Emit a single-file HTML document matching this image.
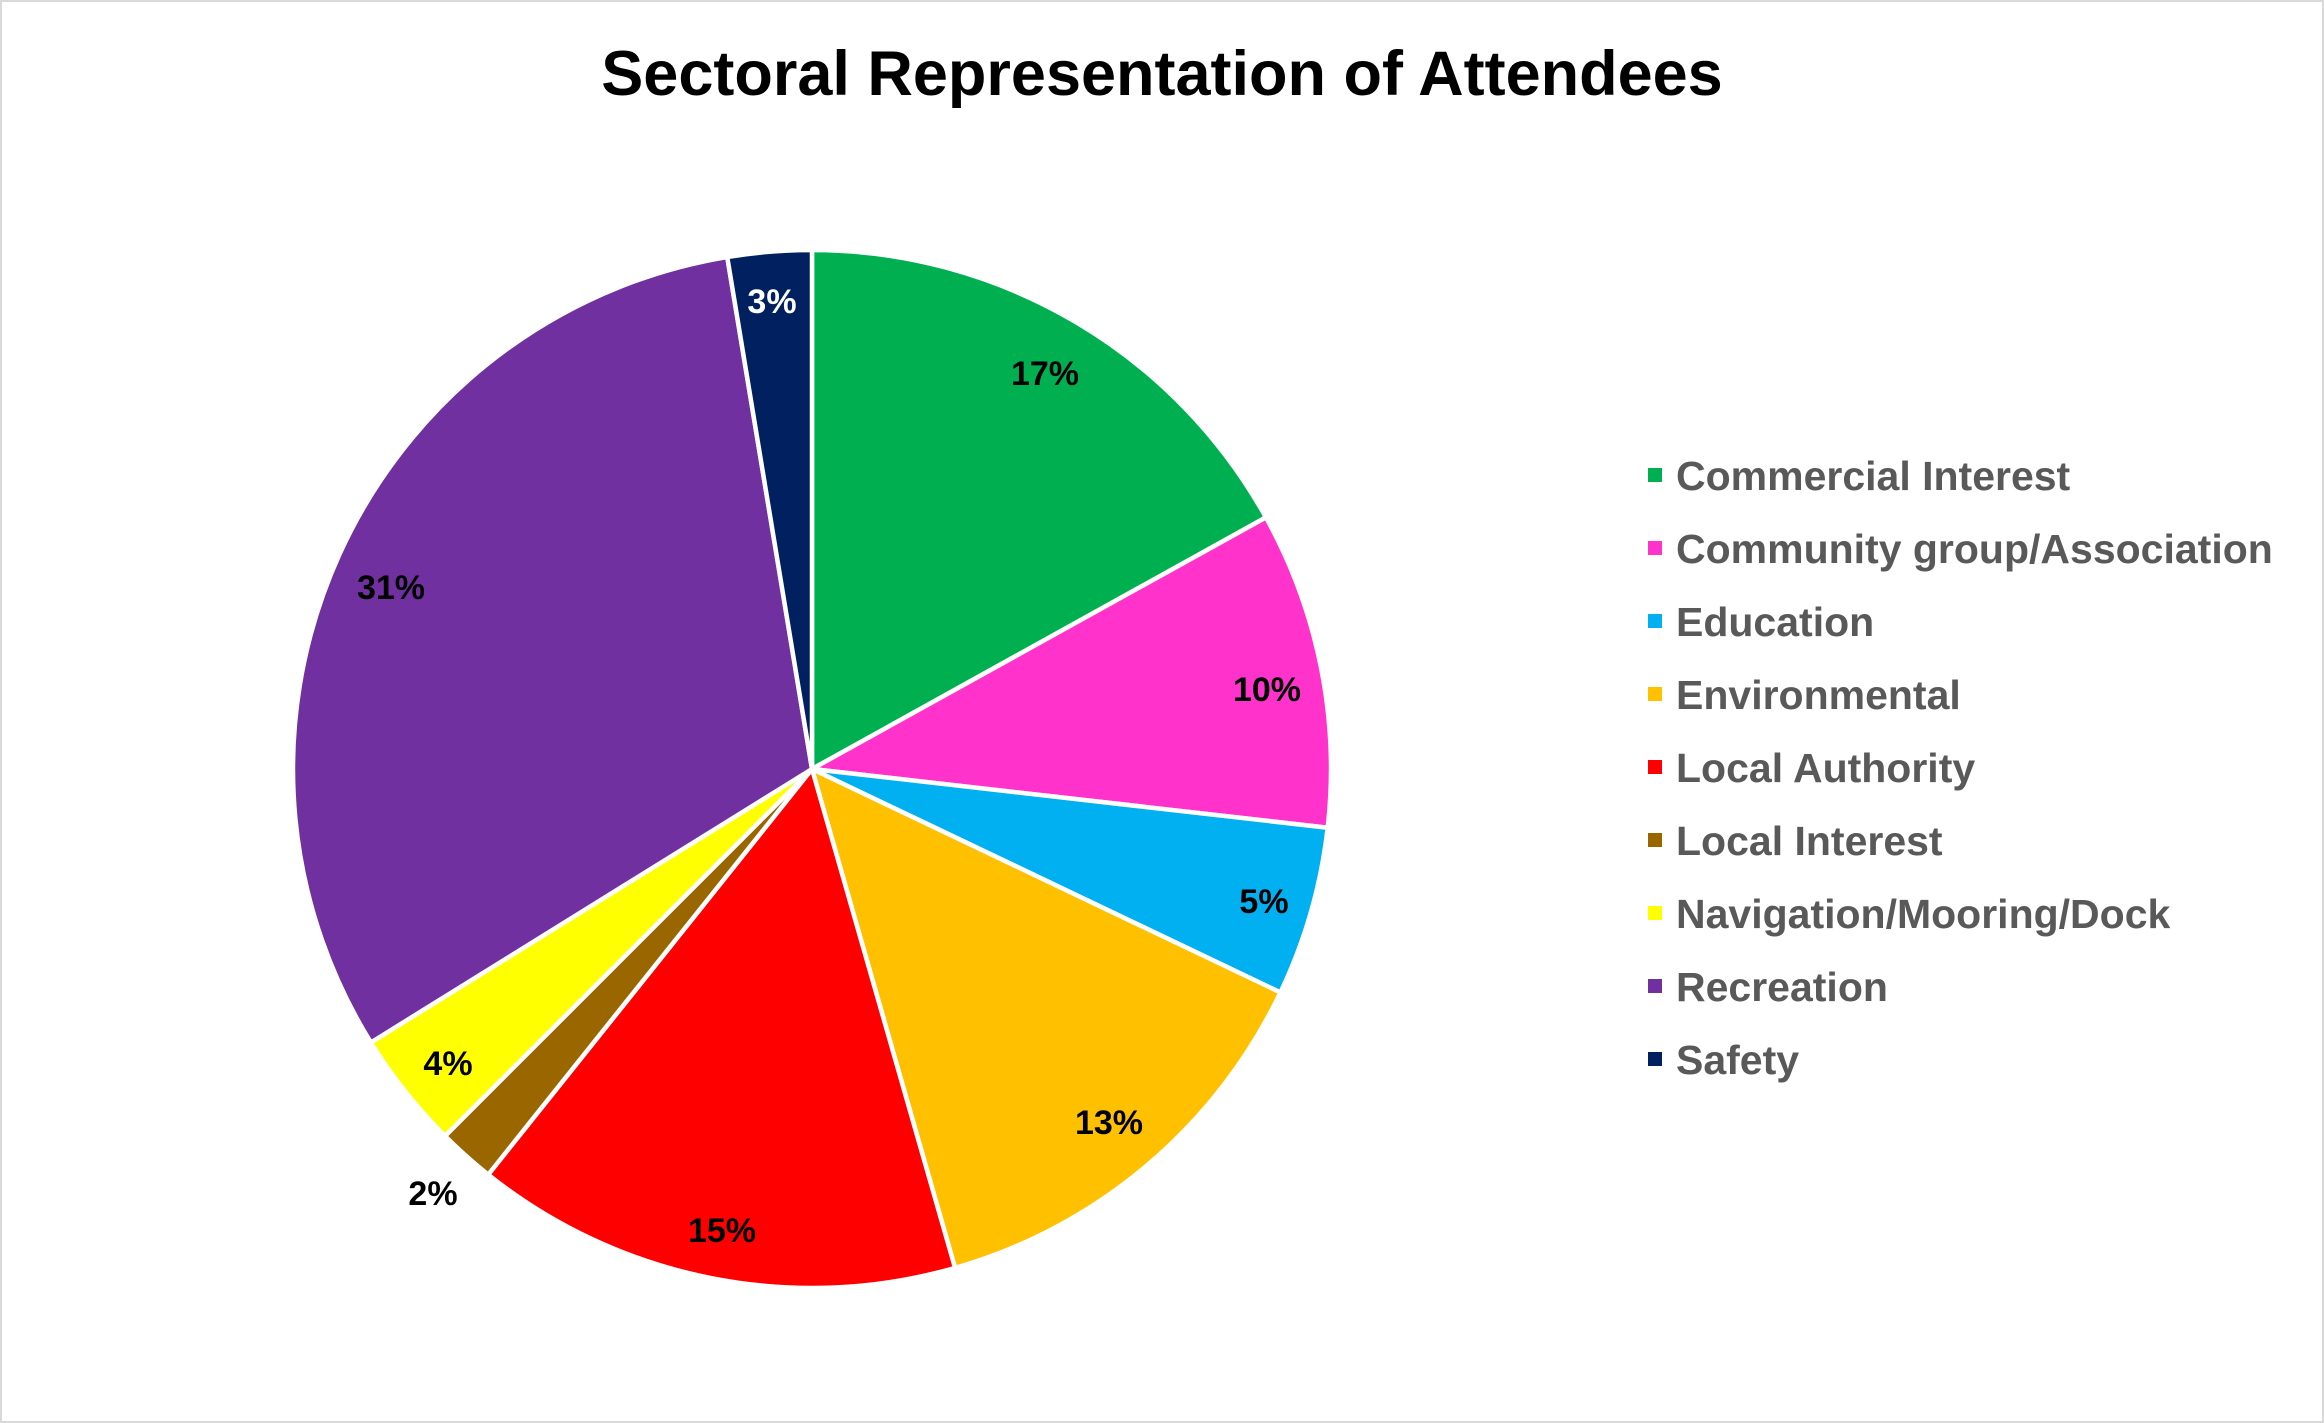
<!DOCTYPE html>
<html><head><meta charset="utf-8"><style>
html,body{margin:0;padding:0;background:#fff}
svg{display:block}
text{font-family:"Liberation Sans",Arial,sans-serif;font-weight:bold}
</style></head><body>
<svg id="s" width="2324" height="1423" viewBox="0 0 2324 1423" xmlns="http://www.w3.org/2000/svg">
<rect x="1" y="1" width="2322" height="1421" fill="#fff" stroke="#d9d9d9" stroke-width="2"/>
<text x="1162" y="95" font-size="63" text-anchor="middle" fill="#000">Sectoral Representation of Attendees</text>
<g id="pie"></g>
<g font-size="34" text-anchor="middle" fill="#000">
<text x="1045" y="385">17%</text>
<text x="1267" y="701">10%</text>
<text x="1264" y="913">5%</text>
<text x="1109" y="1134">13%</text>
<text x="722" y="1242">15%</text>
<text x="433" y="1205">2%</text>
<text x="448" y="1075">4%</text>
<text x="391" y="599">31%</text>
<text x="772" y="313" fill="#fff">3%</text>
</g>
<g font-size="41" fill="#595959" id="leg"></g>
</svg>
<script>
var cx=812,cy=769,r=519;
var a=[0,61,96.5,115.5,164,218.6,225,238.2,350.6,360];
var c=["#00b050","#ff33cc","#00b0f0","#ffc000","#ff0000","#996600","#ffff00","#7030a0","#002060"];
var names=["Commercial Interest","Community group/Association","Education","Environmental","Local Authority","Local Interest","Navigation/Mooring/Dock","Recreation","Safety"];
var ns="http://www.w3.org/2000/svg",g=document.getElementById("pie"),L=document.getElementById("leg");
function p(d){var t=d*Math.PI/180;return [cx+r*Math.sin(t),cy-r*Math.cos(t)];}
for(var i=0;i<9;i++){
 var s=p(a[i]),e=p(a[i+1]),lg=(a[i+1]-a[i])>180?1:0;
 var el=document.createElementNS(ns,"path");
 el.setAttribute("d","M"+cx+","+cy+"L"+s[0]+","+s[1]+"A"+r+","+r+" 0 "+lg+" 1 "+e[0]+","+e[1]+"Z");
 el.setAttribute("fill",c[i]);el.setAttribute("stroke","#fff");el.setAttribute("stroke-width","4.5");el.setAttribute("stroke-linejoin","round");
 g.appendChild(el);
 var y=476+i*73;
 var rc=document.createElementNS(ns,"rect");
 rc.setAttribute("x",1648);rc.setAttribute("y",y-8);rc.setAttribute("width",14);rc.setAttribute("height",14);rc.setAttribute("fill",c[i]);
 L.appendChild(rc);
 var t=document.createElementNS(ns,"text");
 t.setAttribute("x",1676);t.setAttribute("y",y+14);t.textContent=names[i];
 L.appendChild(t);
}
</script>
</body></html>
